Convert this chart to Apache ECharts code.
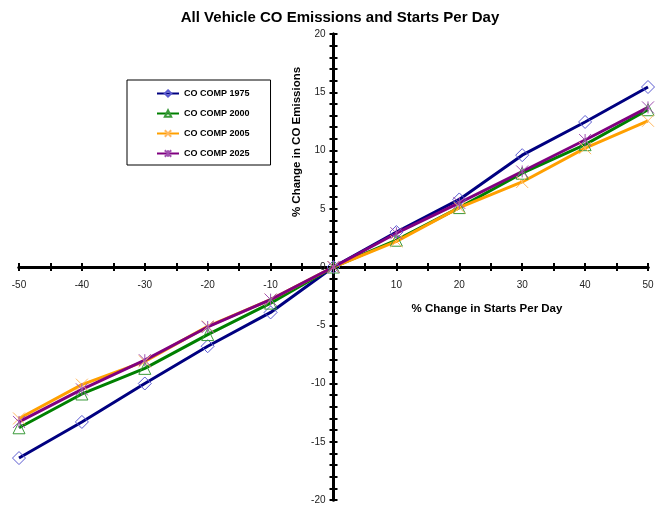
<!DOCTYPE html>
<html>
<head>
<meta charset="utf-8">
<script src="https://cdn.jsdelivr.net/npm/echarts@6/dist/echarts.min.js"></script>
<style>html,body{margin:0;padding:0;background:#fff}#c{width:659px;height:506px}</style>
</head>
<body>
<div id="c"></div>
<script>
const categories = [-50, -40, -30, -20, -10, 0, 10, 20, 30, 40, 50];
const co1975 = [-16.4, -13.3, -10.0, -6.8, -3.9, 0, 3.0, 5.8, 9.6, 12.45, 15.45];
const co2000 = [-13.8, -10.9, -8.7, -5.8, -3.1, 0, 2.3, 5.1, 8.05, 10.5, 13.5];
const co2005 = [-13.0, -10.1, -8.1, -5.1, -2.8, 0, 2.2, 5.1, 7.3, 10.2, 12.55];
const co2025 = [-13.3, -10.5, -8.0, -5.15, -2.8, 0, 2.9, 5.5, 8.2, 10.9, 13.7];
const seriesNames = ['CO COMP 1975', 'CO COMP 2000', 'CO COMP 2005', 'CO COMP 2025'];
const titleText = 'All Vehicle CO Emissions and Starts Per Day';
const xName = '% Change in Starts Per Day';
const yName = '% Change in CO Emissions';
const xMin = -50, xMax = 50, xStep = 10;
const yMin = -20, yMax = 20, yStep = 5;

const W = 659, H = 506;
const G = {left: 19, right: 11, top: 34, bottom: 6};
const plotW = W - G.left - G.right, plotH = H - G.top - G.bottom;
// offsets that bring the edge axes to the zero lines
const xOff = -plotH * (0 - yMin) / (yMax - yMin);
const yOff = -plotW * (0 - xMin) / (xMax - xMin);

const chart = echarts.init(document.getElementById('c'), null, {renderer: 'canvas'});
const FONT = 'Liberation Sans, Arial, sans-serif';
function pairs(vals) { return categories.map((c, i) => [c, vals[i]]); }
const xSym = 'path://M0,0L10,10M10,0L0,10';
const starSym = 'path://M0,0L10,10M10,0L0,10M5,0L5,10';
function mk(name, vals, lineColor, sym, symColor, size) {
  return {
    name: name, type: 'line', data: pairs(vals),
    symbol: sym, symbolSize: size, showSymbol: true,
    lineStyle: {color: lineColor, width: 3},
    itemStyle: {color: 'rgba(0,0,0,0)', borderColor: symColor, borderWidth: 1},
    emphasis: {disabled: true}, animation: false
  };
}
const tickStyle = {color: '#000', width: 2};
function xAx(inside, labels) {
  return {
    type: 'value', min: xMin, max: xMax, interval: xStep, position: 'bottom', offset: xOff,
    axisLine: {show: true, onZero: false, lineStyle: {color: '#000', width: 3}},
    splitLine: {show: false},
    axisTick: {show: true, inside: inside, length: 4, lineStyle: tickStyle},
    minorTick: {show: true, splitNumber: 2, length: 4, lineStyle: tickStyle},
    axisLabel: {show: labels, margin: 13, fontFamily: FONT, fontSize: 10, color: '#222',
      formatter: v => (v === 0 ? '' : String(v))}
  };
}
function yAx(inside, labels) {
  return {
    type: 'value', min: yMin, max: yMax, interval: yStep, position: 'left', offset: yOff,
    axisLine: {show: true, onZero: false, lineStyle: {color: '#000', width: 3}},
    splitLine: {show: false},
    axisTick: {show: true, inside: inside, length: 4, lineStyle: tickStyle},
    minorTick: {show: true, splitNumber: 5, length: 4, lineStyle: tickStyle},
    axisLabel: {show: labels, margin: 8, fontFamily: FONT, fontSize: 10, color: '#222'}
  };
}
chart.setOption({
  animation: false,
  grid: {left: G.left, right: G.right, top: G.top, bottom: G.bottom, containLabel: false},
  legend: {
    orient: 'vertical', left: 127, top: 80,
    padding: [9, 21, 7, 29],
    borderColor: '#000', borderWidth: 1, itemGap: 11,
    itemWidth: 22, itemHeight: 8,
    textStyle: {fontFamily: FONT, fontSize: 9, fontWeight: 'bold', color: '#000'},
    data: seriesNames
  },
  xAxis: [xAx(false, true), xAx(true, false)],
  yAxis: [yAx(false, true), yAx(true, false)],
  graphic: [
    {type: 'text', x: 340, y: 18, style: {text: titleText, font: 'bold 15px ' + FONT, fill: '#000', align: 'center', verticalAlign: 'middle'}},
    {type: 'text', x: 487, y: 309, style: {text: xName, font: 'bold 11.5px ' + FONT, fill: '#000', align: 'center', verticalAlign: 'middle'}},
    {type: 'text', x: 297, y: 142, rotation: Math.PI / 2, style: {text: yName, font: 'bold 11.5px ' + FONT, fill: '#000', align: 'center', verticalAlign: 'middle'}}
  ],
  series: [
    mk(seriesNames[0], co1975, '#000080', 'diamond', '#5a5ad0', 13),
    mk(seriesNames[1], co2000, '#008000', 'triangle', '#3a9a3a', 12),
    mk(seriesNames[2], co2005, '#ffa000', xSym, '#ffb860', 12),
    mk(seriesNames[3], co2025, '#800080', starSym, '#a050b0', 12)
  ]
});
</script>
</body>
</html>
